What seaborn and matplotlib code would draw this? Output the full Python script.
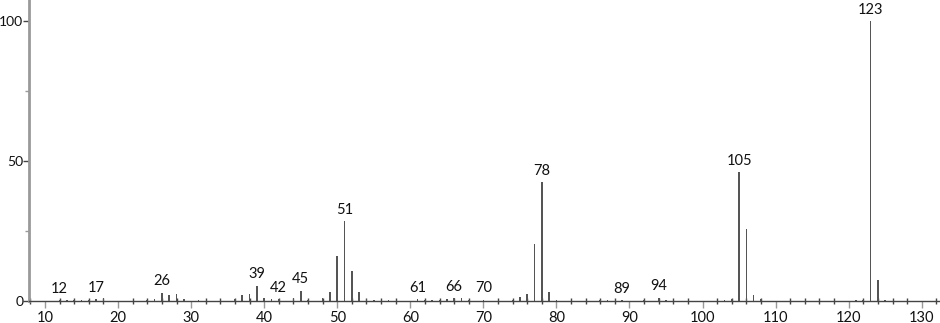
import matplotlib
matplotlib.use("Agg")
import matplotlib.pyplot as plt
import seaborn as sns
import pandas as pd
from matplotlib.ticker import MultipleLocator

mz = [12, 13, 14, 15, 16, 17, 18, 24, 25, 26, 27, 28, 29, 31, 36, 37, 38, 39, 40, 41, 42, 44, 45, 46,
      48, 49, 50, 51, 52, 53, 54, 55, 57, 61, 62, 63, 64, 65, 66, 67, 68, 70, 74, 75, 76, 77, 78, 79, 80,
      86, 87, 89, 92, 94, 95, 103, 104, 105, 106, 107, 108, 121, 122, 123, 124, 125]
intensity = [0.4, 0.2, 0.5, 0.5, 0.3, 0.6, 1.0, 0.5, 0.8, 3.0, 2.1, 2.6, 0.6, 0.3, 0.6, 2.0, 2.6, 5.5, 1.0, 0.6, 0.6, 1.0, 3.7, 0.3,
             1.0, 3.2, 16.0, 28.6, 10.6, 3.2, 0.7, 0.5, 0.3, 0.6, 0.5, 0.4, 0.5, 0.6, 1.0, 1.0, 0.4, 0.5, 0.5, 1.4, 2.5, 20.2, 42.4, 3.3, 0.4,
             0.3, 0.4, 0.4, 0.3, 1.2, 0.5, 0.3, 0.8, 46.0, 25.7, 2.0, 0.6, 0.3, 0.5, 100.0, 7.5, 0.5]
label_mz = [12, 17, 26, 39, 42, 45, 51, 61, 66, 70, 78, 89, 94, 105, 123]

df = pd.DataFrame({"mz": mz, "intensity": intensity})

sns.set_style("white")
plt.rcParams["font.family"] = ["Lato", "DejaVu Sans"]

fig = plt.figure(figsize=(9.40, 3.23), dpi=100)
ax = fig.add_axes([29 / 940, 22 / 323, 1 - 29 / 940, 1 - 22 / 323])

sns.histplot(data=df, x="mz", weights="intensity", discrete=True, shrink=0.22,
             color="#555555", alpha=1, edgecolor="none", linewidth=0, ax=ax)

lookup = dict(zip(mz, intensity))
for m in label_mz:
    ax.annotate(str(m), (m, lookup[m]), xytext=(0, 3), textcoords="offset points",
                ha="center", va="bottom", fontsize=10.5, color="#111111")

ax.set_xlim(7.81, 132.5)
ax.set_ylim(0, 107.5)
ax.set_xlabel("")
ax.set_ylabel("")

ax.xaxis.set_major_locator(MultipleLocator(10))
ax.xaxis.set_minor_locator(MultipleLocator(2))
ax.yaxis.set_major_locator(MultipleLocator(50))
ax.yaxis.set_minor_locator(MultipleLocator(25))

ax.tick_params(axis="x", which="major", direction="out", length=5, width=1, color="#999999",
               labelsize=10.5, pad=2, labelcolor="#111111")
ax.tick_params(axis="x", which="minor", direction="inout", length=5, width=1, color="#444444")
ax.tick_params(axis="y", which="major", direction="out", length=4, width=1, color="#444444",
               labelsize=10, pad=0, labelcolor="#111111")
ax.tick_params(axis="y", which="minor", direction="out", length=3, width=1, color="#999999")
ax.tick_params(bottom=True, left=True, which="both")

for s in ["top", "right"]:
    ax.spines[s].set_visible(False)
ax.spines["left"].set_color("#999999")
ax.spines["left"].set_linewidth(2)
ax.spines["bottom"].set_color("#444444")
ax.spines["bottom"].set_linewidth(1)

fig.savefig("out.png", dpi=100)
